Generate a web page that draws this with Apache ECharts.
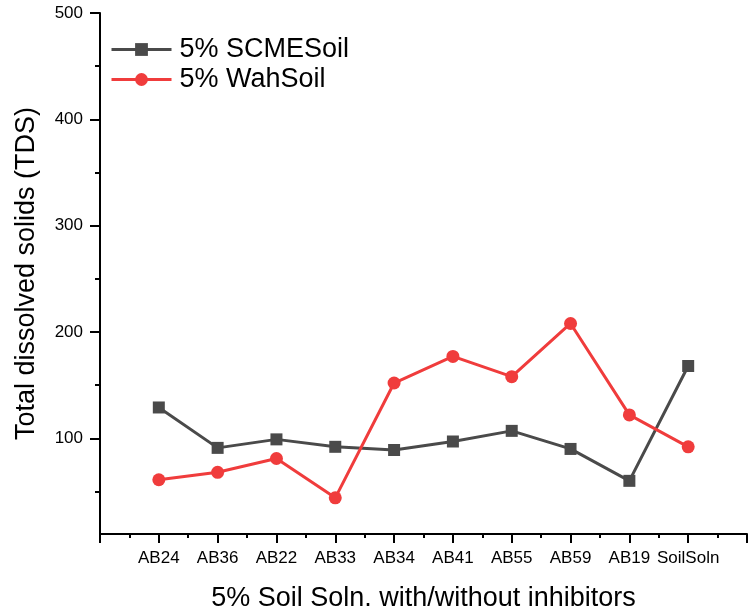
<!DOCTYPE html>
<html>
<head>
<meta charset="utf-8">
<script src="https://cdn.jsdelivr.net/npm/echarts@6/dist/echarts.min.js"></script>
<style>html,body{margin:0;padding:0;background:#fff}#c{width:749px;height:609px}</style>
</head>
<body>
<div id="c"></div>
<script>
var categories = ['AB24','AB36','AB22','AB33','AB34','AB41','AB55','AB59','AB19','SoilSoln'];
var scmeSoil = [129, 91, 99, 92, 89, 97, 107, 90, 60, 168];
var wahSoil = [61, 68, 81, 44, 152, 177, 158, 208, 122, 92];
var yMajorTicks = [100, 200, 300, 400, 500];
var yMinorTicks = [50, 150, 250, 350, 450];

function toPoints(vals){ return vals.map(function(v,i){ return [i+1, v]; }); }

var font = 'Liberation Sans, Arial, sans-serif';
var chart = echarts.init(document.getElementById('c'), null, {renderer:'canvas'});
chart.setOption({
  animation:false,
  backgroundColor:'#fff',
  grid:{left:100, right:2, top:13, bottom:75, containLabel:false, outerBoundsMode:'none'},
  legend:{
    orient:'vertical', left:110, top:36, padding:0, itemWidth:60, itemHeight:16, itemGap:3,
    lineStyle:{width:3},
    textStyle:{fontFamily:font, fontSize:27, color:'#000', lineHeight:27, padding:[0,0,0,3]},
    data:['5% SCMESoil','5% WahSoil']
  },
  xAxis:{
    type:'value', min:0, max:11, interval:1,
    name:'5% Soil Soln. with/without inhibitors', nameLocation:'middle', nameGap:51,
    nameTextStyle:{fontFamily:font, fontSize:27, color:'#000'},
    axisLine:{lineStyle:{color:'#000', width:2}},
    axisTick:{inside:false, length:9, lineStyle:{color:'#000', width:2}},
    minorTick:{show:true, splitNumber:2, length:4, lineStyle:{color:'#000', width:2}},
    splitLine:{show:false}, minorSplitLine:{show:false},
    axisLabel:{fontFamily:font, fontSize:17, color:'#000', margin:16,
      showMinLabel:true, showMaxLabel:true,
      formatter:function(v){ var i=Math.round(v)-1; return (i>=0 && i<categories.length)?categories[i]:''; }}
  },
  yAxis:[{
    type:'value', min:10, max:500,
    name:'Total dissolved solids (TDS)', nameLocation:'middle', nameGap:60,
    nameTextStyle:{fontFamily:font, fontSize:27, color:'#000'},
    axisLine:{show:true, lineStyle:{color:'#000', width:2}},
    axisTick:{show:true, length:10, customValues:yMajorTicks, lineStyle:{color:'#000', width:2}},
    axisLabel:{fontFamily:font, fontSize:17, color:'#000', margin:17, customValues:yMajorTicks},
    splitLine:{show:false}
  },{
    type:'value', min:10, max:500, position:'left',
    axisLine:{show:false},
    axisTick:{show:true, length:5, customValues:yMinorTicks, lineStyle:{color:'#000', width:2}},
    axisLabel:{show:false, customValues:yMinorTicks},
    splitLine:{show:false}
  }],
  series:[{
    name:'5% SCMESoil', type:'line', data:toPoints(scmeSoil),
    symbol:'rect', symbolSize:12,
    lineStyle:{color:'#4a4a4a', width:3},
    itemStyle:{color:'#4a4a4a'}
  },{
    name:'5% WahSoil', type:'line', data:toPoints(wahSoil),
    symbol:'circle', symbolSize:13,
    lineStyle:{color:'#f03c3c', width:3},
    itemStyle:{color:'#f03c3c'}
  }]
});
</script>
</body>
</html>
